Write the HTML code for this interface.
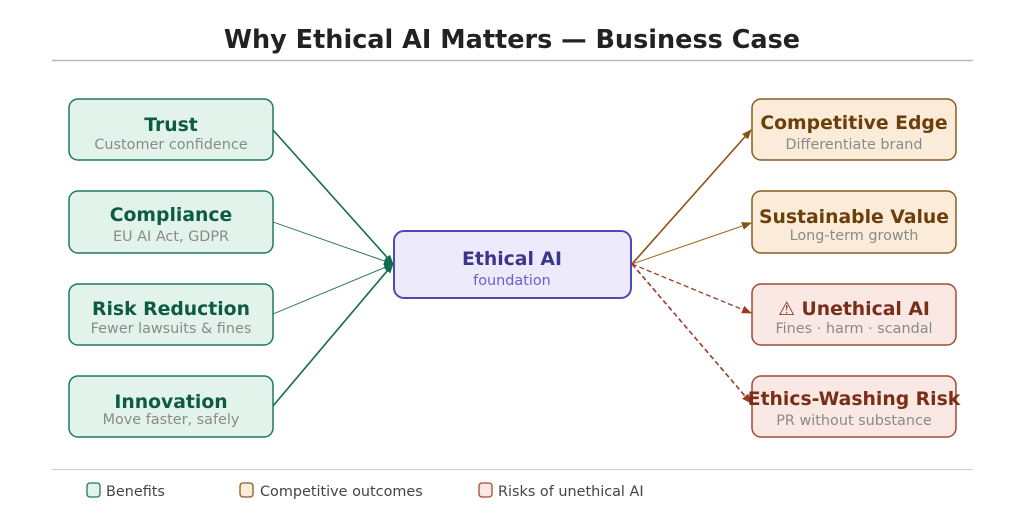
<!DOCTYPE html>
<html><head><meta charset="utf-8"><style>
html,body{margin:0;padding:0;background:#fff;}
svg{display:block;}
text{font-family:"DejaVu Sans","Liberation Sans",sans-serif;}
</style></head><body>
<svg width="1024" height="529" viewBox="0 0 1024 529" xmlns="http://www.w3.org/2000/svg">
<defs>
<marker id="ag" markerWidth="10" markerHeight="8" refX="9" refY="4" orient="auto" markerUnits="userSpaceOnUse"><path d="M0,0 L10,4 L0,8 z" fill="#116b52"/></marker>
<marker id="ab" markerWidth="10" markerHeight="8" refX="9" refY="4" orient="auto" markerUnits="userSpaceOnUse"><path d="M0,0 L10,4 L0,8 z" fill="#8a5210"/></marker>
<marker id="ar" markerWidth="10" markerHeight="8" refX="9" refY="4" orient="auto" markerUnits="userSpaceOnUse"><path d="M0,0 L10,4 L0,8 z" fill="#9a3b22"/></marker>
</defs>
<text x="512" y="48" text-anchor="middle" font-size="25.5" font-weight="bold" fill="#222">Why Ethical AI Matters — Business Case</text>
<line x1="52" y1="60.5" x2="973" y2="60.5" stroke="#b8b8a8" stroke-width="1.5"/>
<line x1="52" y1="469.5" x2="973" y2="469.5" stroke="#cccccc" stroke-width="1"/>

<g stroke="#116b52" fill="none">
<line x1="273" y1="130" x2="393" y2="264" stroke-width="1.6" marker-end="url(#ag)"/>
<line x1="273" y1="222" x2="393" y2="264" stroke-width="0.9" marker-end="url(#ag)"/>
<line x1="273" y1="314" x2="393" y2="264" stroke-width="0.9" marker-end="url(#ag)"/>
<line x1="273" y1="406" x2="393" y2="264" stroke-width="1.6" marker-end="url(#ag)"/>
</g>
<line x1="632" y1="264" x2="751" y2="130" stroke="#8a5210" stroke-width="1.6" marker-end="url(#ab)"/>
<line x1="632" y1="264" x2="751" y2="223" stroke="#a0621a" stroke-width="1" marker-end="url(#ab)"/>
<line x1="632" y1="264" x2="751" y2="313" stroke="#9a3b22" stroke-width="1.3" stroke-dasharray="5,3" marker-end="url(#ar)"/>
<line x1="632" y1="264" x2="751" y2="403" stroke="#9a3b22" stroke-width="1.6" stroke-dasharray="5,3" marker-end="url(#ar)"/>

<g stroke="#1e7a5e" stroke-width="1.5" fill="#e2f3ec">
<rect x="69" y="99" width="204" height="61" rx="9"/>
<rect x="69" y="191" width="204" height="62" rx="9"/>
<rect x="69" y="284" width="204" height="61" rx="9"/>
<rect x="69" y="376" width="204" height="61" rx="9"/>
</g>
<g text-anchor="middle">
<text x="171" y="131" font-size="18.8" font-weight="bold" fill="#0f5a43">Trust</text>
<text x="171" y="149" font-size="14.4" fill="#8a8a8a">Customer confidence</text>
<text x="171" y="221" font-size="18.8" font-weight="bold" fill="#0f5a43">Compliance</text>
<text x="171" y="241" font-size="14.4" fill="#8a8a8a">EU AI Act, GDPR</text>
<text x="171" y="315" font-size="18.8" font-weight="bold" fill="#0f5a43">Risk Reduction</text>
<text x="171" y="333" font-size="14.4" fill="#8a8a8a">Fewer lawsuits &amp; fines</text>
<text x="171" y="408" font-size="18.8" font-weight="bold" fill="#0f5a43">Innovation</text>
<text x="171" y="424" font-size="14.4" fill="#8a8a8a">Move faster, safely</text>
</g>

<rect x="394" y="231" width="237" height="67" rx="10" fill="#edebfb" stroke="#5148b8" stroke-width="2"/>
<text x="512" y="265" text-anchor="middle" font-size="18.8" font-weight="bold" fill="#3c3590">Ethical AI</text>
<text x="512" y="285" text-anchor="middle" font-size="14.4" fill="#6a5fcf">foundation</text>

<g stroke-width="1.5">
<rect x="752" y="99" width="204" height="61" rx="9" fill="#fbecd9" stroke="#8a5a20"/>
<rect x="752" y="191" width="204" height="62" rx="9" fill="#fbecd9" stroke="#8a5a20"/>
<rect x="752" y="284" width="204" height="61" rx="9" fill="#f9e8e3" stroke="#a44a32"/>
<rect x="752" y="376" width="204" height="61" rx="9" fill="#f9e8e3" stroke="#a44a32"/>
</g>
<g text-anchor="middle">
<text x="854" y="129" font-size="18.8" font-weight="bold" fill="#6b3e0a">Competitive Edge</text>
<text x="854" y="149" font-size="14.4" fill="#8a8a8a">Differentiate brand</text>
<text x="854" y="223" font-size="18.8" font-weight="bold" fill="#6b3e0a">Sustainable Value</text>
<text x="854" y="240" font-size="14.4" fill="#8a8a8a">Long-term growth</text>
<text x="854" y="315" font-size="18.8" font-weight="bold" fill="#7a2e18">⚠ Unethical AI</text>
<text x="854" y="333" font-size="14.4" fill="#8a8a8a">Fines · harm · scandal</text>
<text x="854" y="405" font-size="18.8" font-weight="bold" fill="#7a2e18">Ethics-Washing Risk</text>
<text x="854" y="425" font-size="14.4" fill="#8a8a8a">PR without substance</text>
</g>

<rect x="87" y="483" width="13" height="14" rx="3" fill="#e2f3ec" stroke="#1e7a5e" stroke-width="1.3"/>
<text x="106" y="496" font-size="14.4" fill="#444">Benefits</text>
<rect x="240" y="483" width="13" height="14" rx="3" fill="#fbecd9" stroke="#8a5a20" stroke-width="1.3"/>
<text x="260" y="496" font-size="14.4" fill="#444">Competitive outcomes</text>
<rect x="479" y="483" width="13" height="14" rx="3" fill="#f9e8e3" stroke="#a44a32" stroke-width="1.3"/>
<text x="498" y="496" font-size="14.4" fill="#444">Risks of unethical AI</text>
</svg>
</body></html>
